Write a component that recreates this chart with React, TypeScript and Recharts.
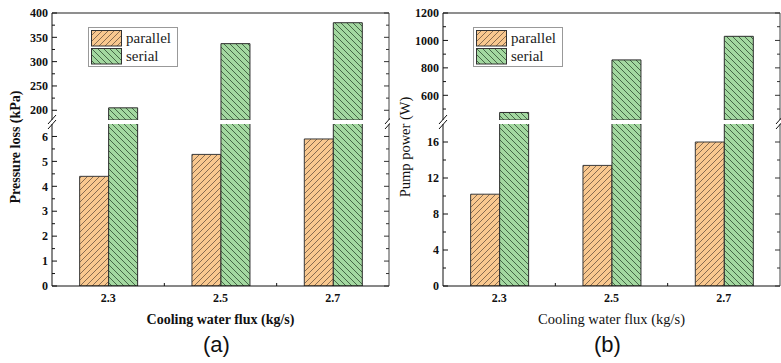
import { BarChart, Bar, XAxis, YAxis, Legend, ReferenceLine } from 'recharts';

const categories = ['2.3', '2.5', '2.7'];

// (a) pressure loss, kPa
const pressureParallel = [4.4, 5.28, 5.9];
const pressureSerial = [205, 337, 380];

// (b) pump power, W
const powerParallel = [10.2, 13.4, 16.0];
const powerSerial = [475, 858, 1030];

// broken axis pieces
const pressureUpperDomain = [180, 400];
const pressureUpperMajor = [200, 250, 300, 350, 400];
const pressureUpperMinor = [225, 275, 325, 375];
const pressureLowerDomain = [0, 6.5];
const pressureLowerMajor = [0, 1, 2, 3, 4, 5, 6];
const pressureLowerMinor = [0.5, 1.5, 2.5, 3.5, 4.5, 5.5];

const powerUpperDomain = [420, 1200];
const powerUpperMajor = [600, 800, 1000, 1200];
const powerUpperMinor = [500, 700, 900, 1100];
const powerLowerDomain = [0, 18];
const powerLowerMajor = [0, 4, 8, 12, 16];
const powerLowerMinor = [2, 6, 10, 14];

const SERIF = '"Liberation Serif", "Times New Roman", serif';
const ORANGE = '#f9c88f';
const GREEN = '#a3d8a0';

type Piece = { domain: number[]; major: number[]; minor: number[] };

const leftTick = (major: number[], gap: number) => (p: any) => {
  const ax = p.x + gap;
  const isMajor = major.includes(p.payload.value);
  return (
    <g>
      <line x1={ax} x2={ax + (isMajor ? 5 : 3)} y1={p.y} y2={p.y} stroke="#111" />
      {isMajor && (
        <text x={p.x} y={p.y} dy="0.35em" textAnchor="end" fontFamily={SERIF} fontWeight="bold" fontSize={12} fill="#111">
          {p.payload.value}
        </text>
      )}
    </g>
  );
};

const rightTick = (major: number[]) => (p: any) => {
  const isMajor = major.includes(p.payload.value);
  return <line x1={p.x} x2={p.x - (isMajor ? 5 : 3)} y1={p.y} y2={p.y} stroke="#333" />;
};

const xTick = (last: number) => (p: any) => {
  const ax = p.y - 7;
  const half = p.payload.offset || 0;
  return (
    <g>
      {p.index < last && <line x1={p.x + half} x2={p.x + half} y1={ax} y2={ax - 3} stroke="#111" />}
      <text x={p.x} y={p.y} dy="0.71em" textAnchor="middle" fontFamily={SERIF} fontWeight="bold" fontSize={12} fill="#111">
        {p.payload.value}
      </text>
    </g>
  );
};

function Patterns({ id }: { id: string }) {
  return (
    <defs>
      <pattern id={`${id}-par`} patternUnits="userSpaceOnUse" width={6} height={6}>
        <rect width={6} height={6} fill={ORANGE} />
        <path d="M0,6 L6,0 M-1,1 L1,-1 M5,7 L7,5" stroke="#6b5440" strokeWidth={0.8} />
      </pattern>
      <pattern id={`${id}-ser`} patternUnits="userSpaceOnUse" width={6} height={6}>
        <rect width={6} height={6} fill={GREEN} />
        <path d="M0,0 L6,6 M-1,5 L1,7 M5,-1 L7,1" stroke="#2f4a30" strokeWidth={0.8} />
      </pattern>
    </defs>
  );
}

const LegendBox = ({ payload }: any) => (
  <div style={{ border: '1px solid #999', background: '#fff', padding: '1px 6px 1px 2px' }}>
    {(payload || []).map((e: any) => (
      <div key={e.value} style={{ display: 'flex', alignItems: 'center', height: 18 }}>
        <svg width={32} height={17} style={{ display: 'block' }}>
          <rect x={0.5} y={0.5} width={30} height={15.5} fill={e.color} stroke="#333" />
        </svg>
        <span style={{ fontFamily: SERIF, fontSize: 15, marginLeft: 3, color: '#222', lineHeight: '17px' }}>{e.value}</span>
      </div>
    ))}
  </div>
);

type PanelProps = {
  id: string;
  left: number;
  width: number;
  axisW: number;
  parallel: number[];
  serial: number[];
  upper: Piece;
  lower: Piece;
  yTitle: string;
  xTitle: string;
  tag: string;
  boldTitles: boolean;
  legendLeft: number;
};

function Panel(props: PanelProps) {
  const { id, left, width, axisW, parallel, serial, upper, lower } = props;
  // values that fall under the break are left out of the upper piece
  const keep = (v: number, d: number[]) => (v >= d[0] ? v : null);
  const upperRows = categories.map((c, i) => ({ cat: c, parallel: keep(parallel[i], upper.domain), serial: keep(serial[i], upper.domain) }));
  const lowerRows = categories.map((c, i) => ({ cat: c, parallel: parallel[i], serial: serial[i] }));
  const parFill = `url(#${id}-par)`;
  const serFill = `url(#${id}-ser)`;
  const rightX = width - 1;
  const titleWeight = props.boldTitles ? 'bold' : 'normal';
  const titleSize = props.boldTitles ? 14 : 14.5;

  const bars = [
    <Bar key="p" yAxisId="l" dataKey="parallel" name="parallel" fill={parFill} stroke="#3a3a3a" strokeWidth={1} isAnimationActive={false} />,
    <Bar key="s" yAxisId="l" dataKey="serial" name="serial" fill={serFill} stroke="#2c2c2c" strokeWidth={1} isAnimationActive={false} />,
  ];

  return (
    <div style={{ position: 'absolute', left, top: 0, width, height: 363 }}>
      <div style={{ position: 'absolute', left: 0, top: 0 }}>
        <BarChart width={width} height={120} data={upperRows} margin={{ top: 13, right: 0, bottom: 0, left: 0 }} barCategoryGap="24.6%" barGap={0}>
          <Patterns id={id} />
          <XAxis dataKey="cat" hide />
          <YAxis yAxisId="l" type="number" domain={upper.domain} ticks={[...upper.major, ...upper.minor]} allowDataOverflow width={axisW}
            tickSize={0} tickMargin={4} tickLine={false} axisLine={{ stroke: '#111' }} tick={leftTick(upper.major, 4)} interval={0} />
          <YAxis yAxisId="r" orientation="right" type="number" domain={upper.domain} ticks={[...upper.major, ...upper.minor]} allowDataOverflow width={1}
            tickSize={0} tickMargin={0} tickLine={false} axisLine={{ stroke: '#444' }} tick={rightTick(upper.major)} interval={0} />
          <ReferenceLine yAxisId="l" y={upper.domain[1]} stroke="#6a6a6a" strokeWidth={1.5} />
          <Legend layout="vertical" align="center" verticalAlign="middle" content={<LegendBox />}
            wrapperStyle={{ left: props.legendLeft, top: 27, width: 'auto' }} />
          {bars}
        </BarChart>
      </div>
      <div style={{ position: 'absolute', left: 0, top: 120 }}>
        <BarChart width={width} height={200} data={lowerRows} margin={{ top: 4, right: 0, bottom: 0, left: 0 }} barCategoryGap="24.6%" barGap={0}>
          <XAxis dataKey="cat" height={34} tickSize={0} tickMargin={7} tickLine={false} axisLine={{ stroke: '#111' }} tick={xTick(categories.length - 1)} interval={0} />
          <YAxis yAxisId="l" type="number" domain={lower.domain} ticks={[...lower.major, ...lower.minor]} allowDataOverflow width={axisW}
            tickSize={0} tickMargin={4} tickLine={false} axisLine={{ stroke: '#111' }} tick={leftTick(lower.major, 4)} interval={0} />
          <YAxis yAxisId="r" orientation="right" type="number" domain={lower.domain} ticks={[...lower.major, ...lower.minor]} allowDataOverflow width={1}
            tickSize={0} tickMargin={0} tickLine={false} axisLine={{ stroke: '#444' }} tick={rightTick(lower.major)} interval={0} />
          {bars}
        </BarChart>
      </div>
      <svg width={width} height={363} style={{ position: 'absolute', left: 0, top: 0, pointerEvents: 'none' }}>
        {[axisW, rightX].map((x) => (
          <g key={x} stroke="#111" strokeWidth={1}>
            <line x1={x - 4} y1={124} x2={x + 4} y2={115} />
            <line x1={x - 4} y1={129} x2={x + 4} y2={120} />
          </g>
        ))}
        <text x={15} y={147} transform={`rotate(-90 15 147)`} textAnchor="middle" dominantBaseline="central"
          fontFamily={SERIF} fontWeight={titleWeight} fontSize={titleSize} fill="#111">{props.yTitle}</text>
        <text x={(axisW + rightX) / 2} y={324} textAnchor="middle" fontFamily={SERIF} fontWeight={titleWeight} fontSize={titleSize} fill="#111">
          {props.xTitle}
        </text>
        <text x={(axisW + rightX) / 2 - 4} y={352} textAnchor="middle" fontFamily='"Liberation Sans", Arial, sans-serif' fontSize={22} fill="#111">
          {props.tag}
        </text>
      </svg>
    </div>
  );
}

export default function App() {
  return (
    <div style={{ position: 'absolute', left: 0, top: 0, width: 781, height: 363, background: '#fff', overflow: 'hidden' }}>
      <Panel id="pa" left={0} width={390} axisW={52} parallel={pressureParallel} serial={pressureSerial}
        upper={{ domain: pressureUpperDomain, major: pressureUpperMajor, minor: pressureUpperMinor }}
        lower={{ domain: pressureLowerDomain, major: pressureLowerMajor, minor: pressureLowerMinor }}
        yTitle="Pressure loss (kPa)" xTitle="Cooling water flux (kg/s)" tag="(a)" boldTitles legendLeft={88} />
      <Panel id="pb" left={390} width={391} axisW={53} parallel={powerParallel} serial={powerSerial}
        upper={{ domain: powerUpperDomain, major: powerUpperMajor, minor: powerUpperMinor }}
        lower={{ domain: powerLowerDomain, major: powerLowerMajor, minor: powerLowerMinor }}
        yTitle="Pump power (W)" xTitle="Cooling water flux (kg/s)" tag="(b)" boldTitles={false} legendLeft={83} />
    </div>
  );
}
